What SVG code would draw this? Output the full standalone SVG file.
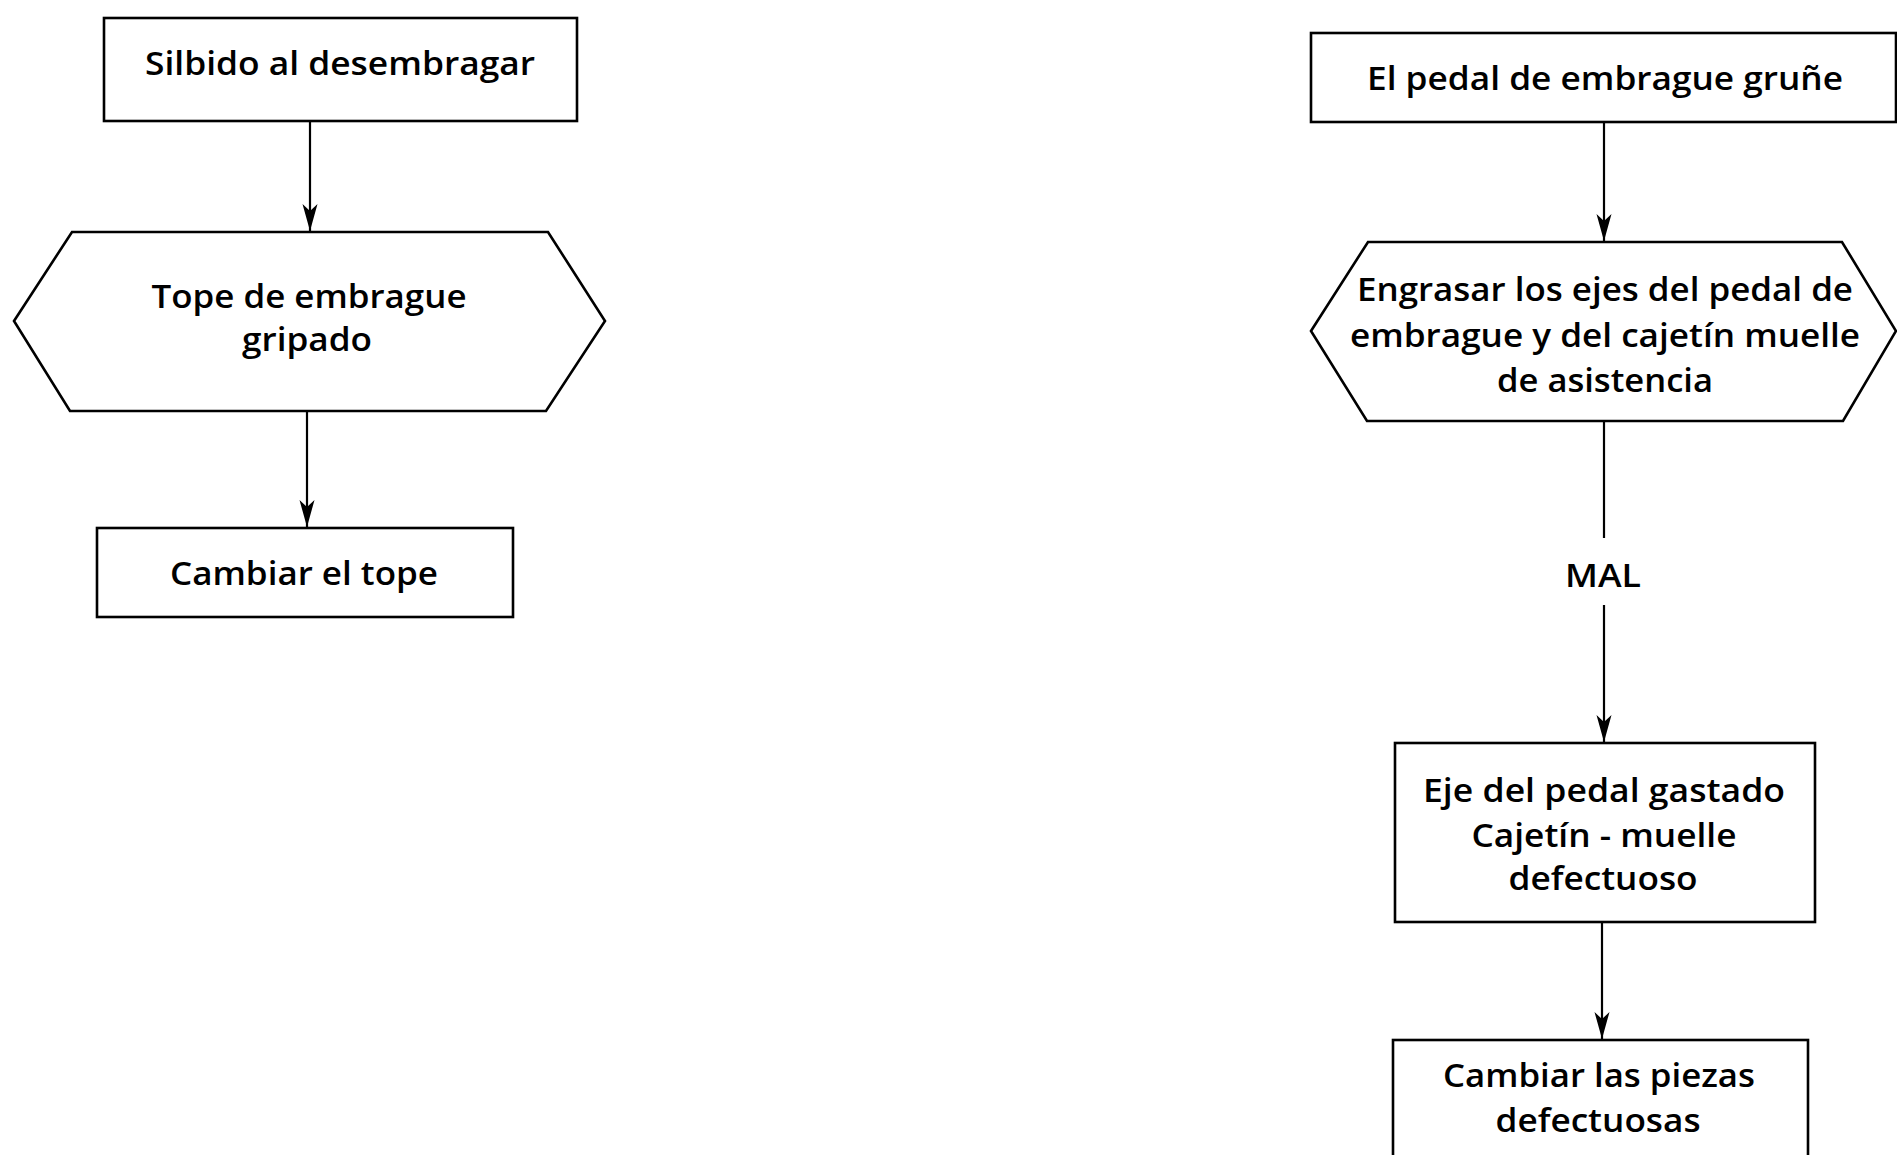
<svg xmlns="http://www.w3.org/2000/svg" width="1897" height="1155" viewBox="0 0 1897 1155">
  <style>
    .shape { fill: #ffffff; stroke: #000000; stroke-width: 2.6; stroke-linejoin: miter; }
    .link { fill: none; stroke: #000000; stroke-width: 2.2; }
    .label { font-family: "Open Sans", "Noto Sans", "Liberation Sans", sans-serif; font-weight: 600; font-size: 33px; fill: #000000; text-anchor: middle; }
  </style>
  <defs>
    <!-- narrow barbed arrowhead, drawn pointing along +x -->
    <marker id="arrow" markerUnits="userSpaceOnUse" markerWidth="30" markerHeight="20" viewBox="-28 -10 30 20" refX="0" refY="0" orient="auto">
      <path d="M0,0 L-27,-7.5 L-20,0 L-27,7.5 Z" fill="#000000"/>
    </marker>
  </defs>

  <rect width="1897" height="1155" fill="#ffffff"/>

  <!-- connectors -->
  <g id="connectors">
    <line class="link" x1="310" y1="121" x2="310" y2="231" marker-end="url(#arrow)"/>
    <line class="link" x1="307" y1="411" x2="307" y2="527" marker-end="url(#arrow)"/>
    <line class="link" x1="1604" y1="122" x2="1604" y2="241" marker-end="url(#arrow)"/>
    <line class="link" x1="1604" y1="421" x2="1604" y2="538"/>
    <line class="link" x1="1604" y1="605" x2="1604" y2="742" marker-end="url(#arrow)"/>
    <line class="link" x1="1602" y1="922" x2="1602" y2="1039" marker-end="url(#arrow)"/>
    <text class="label" x="1603" y="587" textLength="76" lengthAdjust="spacingAndGlyphs">MAL</text>
  </g>

  <!-- left column -->
  <g id="silbido">
    <rect class="shape" x="104" y="18" width="473" height="103"/>
    <text class="label" x="340" y="75" textLength="390" lengthAdjust="spacingAndGlyphs">Silbido al desembragar</text>
  </g>
  <g id="tope-gripado">
    <polygon class="shape" points="14,321 72,232 548,232 605,321 546,411 70,411"/>
    <text class="label" x="309" y="308" textLength="315" lengthAdjust="spacingAndGlyphs">Tope de embrague</text>
    <text class="label" x="307" y="351" textLength="130" lengthAdjust="spacingAndGlyphs">gripado</text>
  </g>
  <g id="cambiar-tope">
    <rect class="shape" x="97" y="528" width="416" height="89"/>
    <text class="label" x="304" y="585" textLength="268" lengthAdjust="spacingAndGlyphs">Cambiar el tope</text>
  </g>

  <!-- right column -->
  <g id="pedal-grune">
    <rect class="shape" x="1311" y="33" width="585" height="89"/>
    <text class="label" x="1605" y="90" textLength="476" lengthAdjust="spacingAndGlyphs">El pedal de embrague gruñe</text>
  </g>
  <g id="engrasar">
    <polygon class="shape" points="1311,331 1368,242 1842,242 1896,331 1843,421 1367,421"/>
    <text class="label" x="1605" y="301" textLength="496" lengthAdjust="spacingAndGlyphs">Engrasar los ejes del pedal de</text>
    <text class="label" x="1605" y="347" textLength="510" lengthAdjust="spacingAndGlyphs">embrague y del cajetín muelle</text>
    <text class="label" x="1605" y="392" textLength="216" lengthAdjust="spacingAndGlyphs">de asistencia</text>
  </g>
  <g id="eje-gastado">
    <rect class="shape" x="1395" y="743" width="420" height="179"/>
    <text class="label" x="1604" y="802" textLength="362" lengthAdjust="spacingAndGlyphs">Eje del pedal gastado</text>
    <text class="label" x="1604" y="847" textLength="265" lengthAdjust="spacingAndGlyphs">Cajetín - muelle</text>
    <text class="label" x="1603" y="890" textLength="189" lengthAdjust="spacingAndGlyphs">defectuoso</text>
  </g>
  <g id="cambiar-piezas">
    <rect class="shape" x="1393" y="1040" width="415" height="140"/>
    <text class="label" x="1599" y="1087" textLength="312" lengthAdjust="spacingAndGlyphs">Cambiar las piezas</text>
    <text class="label" x="1598" y="1132" textLength="205" lengthAdjust="spacingAndGlyphs">defectuosas</text>
  </g>
</svg>
